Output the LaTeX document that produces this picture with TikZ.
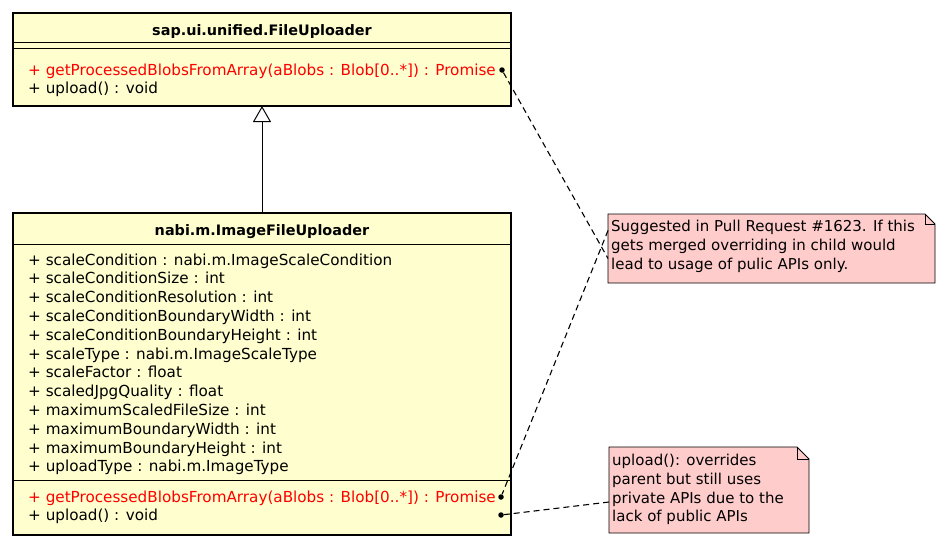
\documentclass[tikz,border=0pt]{standalone}
\usepackage{fontspec}
\setmainfont{DejaVu Sans}
\usetikzlibrary{arrows.meta}
\definecolor{classfill}{RGB}{254,254,206}
\definecolor{notefill}{RGB}{255,204,204}
\definecolor{opred}{RGB}{255,0,0}
\tikzset{
  classbox/.style={draw=black, line width=2.6pt, fill=classfill, inner sep=0pt, outer sep=0pt, minimum width=498pt},
  notebox/.style={inner sep=0pt, outer sep=0pt},
  sepline/.style={line width=1pt},
  txt/.style={anchor=base west, inner sep=0pt, font=\fontsize{15.2}{18}\selectfont},
  ttl/.style={anchor=base, inner sep=0pt, font=\fontsize{14.4}{18}\selectfont\bfseries},
  redtxt/.style={txt, text=opred},
  dotnode/.style={circle, fill=black, inner sep=0pt, minimum size=5.5pt},
  notelink/.style={dash pattern=on 6pt off 4pt, line width=1.1pt},
  notetxt/.style={anchor=base west, inner sep=0pt, font=\fontsize{15}{18}\selectfont},
}
\begin{document}
\begin{tikzpicture}[x=1pt, y=-1pt]
\useasboundingbox (0,0) rectangle (949,546);
% parent class
\node[classbox, minimum height=93pt] (parent) at (262,59.5) {};
\draw[sepline] (13,42) -- (511,42);
\draw[sepline] (13,48) -- (511,48);
\node[ttl] (ptitle) at (262,35) {sap.ui.unified.FileUploader};
\node[redtxt] (pm1) at (28,75) {+ getProcessedBlobsFromArray(aBlobs : Blob[0..*]) : Promise};
\node[txt] (pm2) at (28,93) {+ upload() : void};
% child class
\node[classbox, minimum height=322pt] (child) at (262,374) {};
\draw[sepline] (13,244) -- (511,244);
\draw[sepline] (13,480) -- (511,480);
\node[ttl] (ctitle) at (262,235) {nabi.m.ImageFileUploader};
\foreach \t [count=\i from 0] in {
  {+ scaleCondition : nabi.m.ImageScaleCondition},
  {+ scaleConditionSize : int},
  {+ scaleConditionResolution : int},
  {+ scaleConditionBoundaryWidth : int},
  {+ scaleConditionBoundaryHeight : int},
  {+ scaleType : nabi.m.ImageScaleType},
  {+ scaleFactor : float},
  {+ scaledJpgQuality : float},
  {+ maximumScaledFileSize : int},
  {+ maximumBoundaryWidth : int},
  {+ maximumBoundaryHeight : int},
  {+ uploadType : nabi.m.ImageType}}
  \node[txt] (attr\i) at (28,{265+18.8*\i}) {\t};
\node[redtxt] (cm1) at (28,502) {+ getProcessedBlobsFromArray(aBlobs : Blob[0..*]) : Promise};
\node[txt] (cm2) at (28,520) {+ upload() : void};
% inheritance
\draw[line width=1pt, -{Triangle[open, length=16pt, width=18pt, line width=1pt]}] (child.north) -- (parent.south);
% dots
\node[dotnode] (d1) at (502,70) {};
\node[dotnode] (d2) at (501,497) {};
\node[dotnode] (d3) at (501,515) {};
% note 1
\node[notebox, minimum width=327pt, minimum height=69pt] (note1) at (771.5,248.5) {};
\fill[notefill] (note1.north west) -- ([xshift=-10pt]note1.north east) -- ([yshift=-10pt]note1.north east) -- (note1.south east) -- (note1.south west) -- cycle;
\draw[line width=0.8pt] (note1.north west) -- ([xshift=-10pt]note1.north east) -- ([yshift=-10pt]note1.north east) -- (note1.south east) -- (note1.south west) -- cycle;
\draw[line width=0.8pt] ([xshift=-10pt]note1.north east) |- ([yshift=-10pt]note1.north east);
\node[notetxt] (n1a) at (611,231) {Suggested in Pull Request \#1623. If this};
\node[notetxt] (n1b) at (611,250) {gets merged overriding in child would};
\node[notetxt] (n1c) at (611,269) {lead to usage of pulic APIs only.};
% note 2
\node[notebox, minimum width=200pt, minimum height=86pt] (note2) at (709,490) {};
\fill[notefill] (note2.north west) -- ([xshift=-12pt]note2.north east) -- ([yshift=-12pt]note2.north east) -- (note2.south east) -- (note2.south west) -- cycle;
\draw[line width=0.8pt] (note2.north west) -- ([xshift=-12pt]note2.north east) -- ([yshift=-12pt]note2.north east) -- (note2.south east) -- (note2.south west) -- cycle;
\draw[line width=0.8pt] ([xshift=-12pt]note2.north east) |- ([yshift=-12pt]note2.north east);
\node[notetxt] (n2a) at (612,465) {upload(): overrides};
\node[notetxt] (n2b) at (612,484) {parent but still uses};
\node[notetxt] (n2c) at (612,503) {private APIs due to the};
\node[notetxt] (n2d) at (612,521) {lack of public APIs};
% note links
\draw[notelink] (d1) -- ([yshift=-10pt]note1.west);
\draw[notelink] ([yshift=18pt]note1.west) -- (d2);
\draw[notelink] ([yshift=-12pt]note2.west) -- (d3);
\end{tikzpicture}
\end{document}
